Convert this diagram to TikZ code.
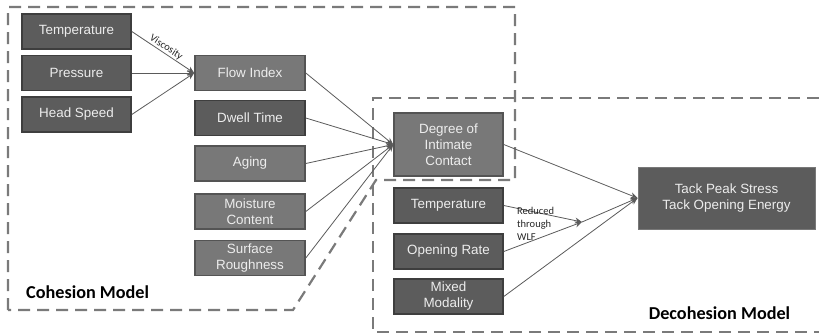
\documentclass[tikz,border=0pt]{standalone}
\usepackage{fontspec}
\setmainfont{Liberation Sans}
\newfontfamily\calibri{Carlito}
\usetikzlibrary{arrows.meta}
\definecolor{boxdark}{HTML}{5C5C5C}
\definecolor{boxdarkline}{HTML}{3E3E3E}
\definecolor{boxlight}{HTML}{787878}
\definecolor{boxlightline}{HTML}{545454}
\definecolor{boxtext}{HTML}{EDEDED}
\definecolor{linegray}{HTML}{5A5A5A}
\definecolor{dashgray}{HTML}{7A7A7A}
\tikzset{
  basebox/.style={rectangle, text=boxtext, line width=1.6pt, align=center,
    font=\fontsize{13.4}{16}\selectfont, inner sep=1pt},
  darkbox/.style={basebox, fill=boxdark, draw=boxdarkline},
  lightbox/.style={basebox, fill=boxlight, draw=boxlightline},
  tackbox/.style={basebox, fill=boxdark, draw=boxlight, line width=1pt},
  conn/.style={draw=linegray, line width=0.8pt, -{Stealth[length=7pt,width=6pt]}},
  region/.style={draw=dashgray, line width=2.2pt, dash pattern=on 12pt off 7pt},
  regionlabel/.style={font=\calibri\bfseries\fontsize{18.2}{20}\selectfont, text=black, inner sep=0pt},
  smalllabel/.style={font=\calibri\fontsize{10.5}{13}\selectfont, text=black!85, inner sep=0pt}
}
\begin{document}
\begin{tikzpicture}[x=1pt,y=-1pt]
\useasboundingbox (0,0) rectangle (819,335);
% regions
\draw[region] (8,310) -- (8,7) -- (515,7) -- (515,180) -- (376,180) -- (293,310) -- cycle;
\draw[region] (819,98) -- (373,98) -- (373,332) -- (819,332);
% left column
\node[darkbox, minimum width=109pt, minimum height=35pt] (t1) at (76.5,31.5) {Temperature};
\node[darkbox, minimum width=109pt, minimum height=35pt] (p1) at (76.5,73) {Pressure};
\node[darkbox, minimum width=109pt, minimum height=35pt] (h1) at (76.5,114.5) {Head Speed};
% middle column
\node[lightbox, minimum width=110pt, minimum height=35pt] (fi) at (250,73) {Flow Index};
\node[darkbox, minimum width=110pt, minimum height=35pt] (dw) at (250,118) {Dwell Time};
\node[lightbox, minimum width=110pt, minimum height=35pt] (ag) at (250,163.5) {Aging};
\node[lightbox, minimum width=110pt, minimum height=35pt] (mc) at (250,211.5) {Moisture\\Content};
\node[lightbox, minimum width=110pt, minimum height=35pt] (sr) at (250,258) {Surface\\Roughness};
% right-middle column
\node[lightbox, minimum width=109pt, minimum height=63pt] (dic) at (448.5,144.5) {Degree of\\Intimate\\Contact};
\node[darkbox, minimum width=109pt, minimum height=35pt] (t2) at (448.5,205.5) {Temperature};
\node[darkbox, minimum width=109pt, minimum height=35pt] (or) at (448.5,251.5) {Opening Rate};
\node[darkbox, minimum width=109pt, minimum height=35pt] (mm) at (448.5,296.5) {Mixed\\Modality};
% output
\node[tackbox, minimum width=177pt, minimum height=62pt] (tack) at (726.5,198) {Tack Peak Stress\\Tack Opening Energy};
\coordinate (j) at (582,222);
% connectors
\draw[conn] (t1.east) -- node[smalllabel, sloped, above=1pt, pos=0.5] {Viscosity} (fi.west);
\draw[conn] (p1.east) -- (fi.west);
\draw[conn] (h1.east) -- (fi.west);
\draw[conn] (fi.east) -- (dic.west);
\draw[conn] (dw.east) -- (dic.west);
\draw[conn] (ag.east) -- (dic.west);
\draw[conn] (mc.east) -- (dic.west);
\draw[conn] (sr.east) -- (dic.west);
\draw[conn] (dic.east) -- (tack.west);
\draw[conn] (t2.east) -- (j);
\draw[conn] (or.east) -- (j);
\draw[conn] (j) -- (tack.west);
\draw[conn] (mm.east) -- (tack.west);
% labels
\node[smalllabel, align=left, anchor=north west] (wlf) at (517,207) {Reduced\\through\\WLF};
\node[regionlabel, anchor=west] (coh) at (26,292) {Cohesion Model};
\node[regionlabel, anchor=center] (dec) at (719.5,313) {Decohesion Model};
\end{tikzpicture}
\end{document}
